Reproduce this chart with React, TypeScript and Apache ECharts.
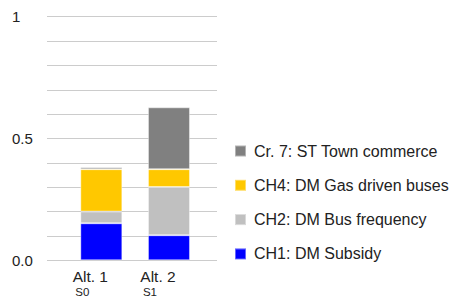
import React, { useEffect, useRef } from "react";
import * as echarts from "echarts";

const categories = ["Alt. 1", "Alt. 2"];
const subLabels = ["S0", "S1"];
const ch1Subsidy = [0.152, 0.103];
const ch2BusFrequency = [0.048, 0.198];
const ch4GasBuses = [0.174, 0.073];
const cr7TownCommerce = [0.008, 0.254];
const seriesNames = [
  "CH1: DM Subsidy",
  "CH2: DM Bus frequency",
  "CH4: DM Gas driven buses",
  "Cr. 7: ST Town commerce",
];
const seriesColors = ["#0000FF", "#C0C0C0", "#FFC800", "#808080"];

const FONT = "Liberation Sans, Arial, sans-serif";

export default function App() {
  const ref = useRef<HTMLDivElement>(null);
  useEffect(() => {
    if (!ref.current) return;
    const chart = echarts.init(ref.current, null, { renderer: "svg" });
    const values = [ch1Subsidy, ch2BusFrequency, ch4GasBuses, cr7TownCommerce];
    const top = 16.7;
    const height = 243.6;
    chart.setOption({
      animation: false,
      textStyle: { fontFamily: FONT },
      grid: [
        { left: 47, width: 170, top, height },
        { left: 67.5, width: 135.3, top, height },
        { left: 56.5, width: 135.3, top, height },
      ],
      xAxis: [
        { type: "category", gridIndex: 1, data: categories, show: false },
        {
          type: "category",
          gridIndex: 2,
          data: categories,
          axisLine: { show: false },
          axisTick: { show: false },
          axisLabel: {
            margin: 8,
            formatter: (v: string, i: number) => `{a|${v}}\n{b|${subLabels[i]}}`,
            rich: {
              a: { fontSize: 15.5, color: "#222", fontFamily: FONT, lineHeight: 17 },
              b: {
                fontSize: 11.5,
                color: "#222",
                fontFamily: FONT,
                lineHeight: 13,
                padding: [0, 16, 0, 0],
              },
            },
          },
        },
        { type: "value", gridIndex: 0, show: false },
      ],
      yAxis: [
        {
          type: "value",
          gridIndex: 0,
          min: 0,
          max: 1,
          interval: 0.1,
          axisLine: { show: false },
          axisTick: { show: false },
          splitLine: { lineStyle: { color: "#CCCCCC", width: 1 } },
          axisLabel: {
            align: "left",
            margin: 35,
            fontSize: 15,
            color: "#222",
            fontFamily: FONT,
            formatter: (v: number) =>
              Math.abs(v - 1) < 1e-6
                ? "1"
                : Math.abs(v - 0.5) < 1e-6
                ? "0.5"
                : Math.abs(v) < 1e-6
                ? "0.0"
                : "",
          },
        },
        { type: "value", gridIndex: 1, min: 0, max: 1, show: false },
        { type: "value", gridIndex: 2, min: 0, max: 1, show: false },
      ],
      legend: {
        orient: "vertical",
        left: 229,
        top: 138,
        itemWidth: 11,
        itemHeight: 11,
        itemGap: 18.3,
        icon: "rect",
        data: [seriesNames[3], seriesNames[2], seriesNames[1], seriesNames[0]],
        textStyle: {
          fontSize: 16,
          color: "#222",
          fontFamily: FONT,
          padding: [0, 0, 0, 3],
        },
      },
      series: values.map((d, i) => ({
        type: "bar",
        name: seriesNames[i],
        stack: "total",
        xAxisIndex: 0,
        yAxisIndex: 1,
        barWidth: 42,
        data: d,
        itemStyle: {
          color: seriesColors[i],
          borderColor: "rgba(255,255,255,0.4)",
          borderWidth: 1,
        },
      })),
    });
    return () => chart.dispose();
  }, []);
  return <div ref={ref} style={{ width: 450, height: 302, position: "absolute", left: 0, top: 0 }} />;
}
